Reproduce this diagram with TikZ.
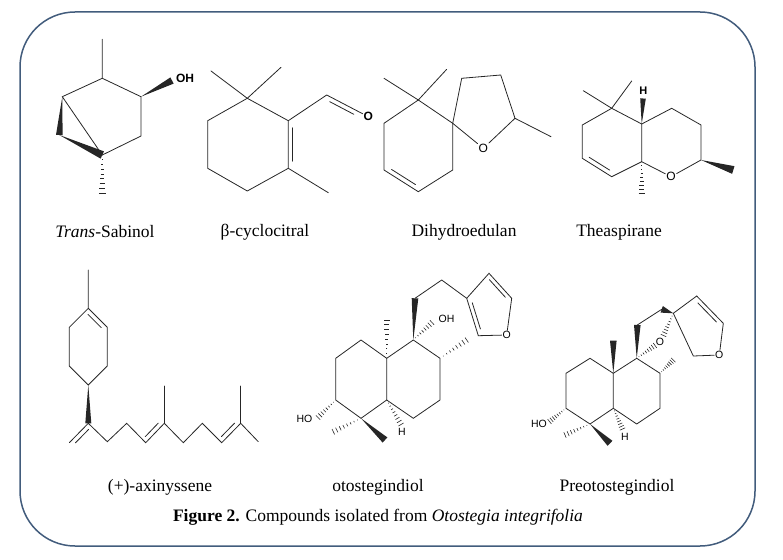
\documentclass[tikz,border=0pt]{standalone}
\usepackage{fontspec}
\setmainfont{Liberation Serif}
\setsansfont{Liberation Sans}
\usetikzlibrary{calc,positioning}
\definecolor{framecol}{RGB}{66,92,124}
\tikzset{
  bond/.style={line width=0.8pt, draw=black!85, line cap=round},
  hashline/.style={line width=0.6pt, draw=black!85},
  atom/.style={font=\sffamily\fontsize{10.5}{10.5}\selectfont, inner sep=0.8pt},
  atombf/.style={font=\sffamily\bfseries\fontsize{12}{12}\selectfont, inner sep=0.8pt},
  compname/.style={font=\fontsize{17.5}{19}\selectfont, inner sep=0pt},
  panel/.style={draw=framecol, line width=1.5pt, rounded corners=55pt}
}
% solid wedge: narrow at #2, wide at #3
\newcommand{\wdgbond}[3][3]{\fill[black!85] (#2) -- ($(#3)!#1pt!90:(#2)$) -- ($(#3)!#1pt!-90:(#2)$) -- cycle;}
% hashed wedge: narrow at #2, wide at #3
\newcommand{\hshbond}[3][3]{%
  \foreach \t in {0.125,0.25,...,1}
    \draw[hashline] ($($(#2)!\t!(#3)$)!{\t*#1pt}!90:(#2)$) -- ($($(#2)!\t!(#3)$)!{\t*#1pt}!-90:(#2)$);}
% second line of a double bond, offset #3
\newcommand{\dblbond}[3]{\draw[bond] ($($(#1)!.15!(#2)$)!#3!90:(#2)$) -- ($($(#2)!.15!(#1)$)!#3!-90:(#1)$);}

\begin{document}
\begin{tikzpicture}[x=1pt,y=-1pt]
\useasboundingbox (0,0) rectangle (783,559);
\draw[panel] (20,12) rectangle (755,546);

% Trans-Sabinol
\coordinate (s1) at (102.3,78.3);
\coordinate (sm) at (102.3,39.3);
\coordinate (s2) at (141,96.7);
\coordinate (s3) at (141,136);
\coordinate (s4) at (102.3,155);
\coordinate (s5) at (62.3,96.7);
\coordinate (s6) at (59.3,135);
\coordinate (sm2) at (102.3,193);
\coordinate (sOHe) at (172,80.5);
\node[atombf] (sOH) at (185,78.5) {OH};
\draw[bond] (sm) -- (s1) -- (s2) -- (s3) -- (s4);
\draw[bond] (s1) -- (s5) -- (s4);
\wdgbond[3.3]{s5}{s6}
\wdgbond[4]{s6}{s4}
\wdgbond[3.5]{s2}{sOHe}
\hshbond[3.5]{s4}{sm2}

% beta-cyclocitral
\coordinate (c1) at (247.3,98.3);
\coordinate (cm1) at (211,71);
\coordinate (cm2) at (281,67.3);
\coordinate (c2) at (207.7,120.7);
\coordinate (c3) at (207.7,168.3);
\coordinate (c4) at (247.3,191);
\coordinate (c5) at (288.3,168.3);
\coordinate (c6) at (288.3,120.7);
\coordinate (cm3) at (328.3,192.7);
\coordinate (c7) at (326.7,95);
\coordinate (cOe) at (361,113);
\node[atombf] (cO) at (368.3,116.7) {O};
\draw[bond] (cm1) -- (c1) -- (cm2);
\draw[bond] (c1) -- (c2) -- (c3) -- (c4) -- (c5) -- (c6) -- (c1);
\draw[bond] (c5) -- (cm3);
\draw[bond] (c6) -- (c7) -- (cO);
\dblbond{c6}{c5}{4.5pt}
\dblbond{c7}{cOe}{-4.5pt}

% Dihydroedulan
\coordinate (d1) at (418.3,100);
\coordinate (dm1) at (384,78.3);
\coordinate (dm2) at (446.7,69.3);
\coordinate (d2) at (384,123.3);
\coordinate (d3) at (384,170);
\coordinate (d4) at (418.3,191.7);
\coordinate (d5) at (452.7,170);
\coordinate (d6) at (452.7,123.3);
\coordinate (d7) at (461.7,78.3);
\coordinate (d8) at (500.7,75);
\coordinate (d9) at (515,118.3);
\coordinate (dm3) at (551,136.7);
\node[atom, font=\sffamily\fontsize{12}{12}\selectfont] (dO) at (483.3,148.3) {O};
\draw[bond] (dm1) -- (d1) -- (dm2);
\draw[bond] (d1) -- (d2) -- (d3) -- (d4) -- (d5) -- (d6) -- (d1);
\draw[bond] (d6) -- (d7) -- (d8) -- (d9) -- (dm3);
\draw[bond] (d9) -- (dO) -- (d6);
\dblbond{d3}{d4}{4.5pt}

% Theaspirane
\coordinate (t1) at (611.7,108.3);
\coordinate (tm1) at (583.3,90.7);
\coordinate (tm2) at (631.7,81);
\coordinate (t2) at (582.3,125);
\coordinate (t3) at (582.3,158.3);
\coordinate (t4) at (611.7,176.7);
\coordinate (t5) at (641.7,161.7);
\coordinate (t6) at (641.7,124);
\coordinate (t7) at (671.7,108.3);
\coordinate (t8) at (701,125);
\coordinate (t9) at (701,160);
\coordinate (tHe) at (643,98.5);
\coordinate (tm3) at (641.7,193.3);
\coordinate (tm4) at (733.3,170);
\node[atom, font=\sffamily\fontsize{12}{12}\selectfont] (tO) at (671,176.7) {O};
\node[atombf, font=\sffamily\bfseries\fontsize{11}{11}\selectfont] (tH) at (643.3,91) {H};
\draw[bond] (tm1) -- (t1) -- (tm2);
\draw[bond] (t1) -- (t2) -- (t3) -- (t4) -- (t5) -- (t6) -- (t1);
\draw[bond] (t6) -- (t7) -- (t8) -- (t9) -- (tO) -- (t5);
\dblbond{t3}{t4}{4.5pt}
\wdgbond[2.8]{t6}{tHe}
\hshbond[3]{t5}{tm3}
\wdgbond[4]{t9}{tm4}

% names, first row
\node[compname] (nsab) at (105,232) {\textit{Trans}-Sabinol};
\node[compname] (ncyc) at (265,232) {β-cyclocitral};
\node[compname] (ndih) at (464,232) {Dihydroedulan};
\node[compname] (nthe) at (619,232) {Theaspirane};

% (+)-axinyssene
\coordinate (am) at (88.3,270);
\coordinate (a1) at (88.3,308.3);
\coordinate (a2) at (107.3,327.3);
\coordinate (a3) at (107.3,366);
\coordinate (a4) at (88.3,385);
\coordinate (a5) at (69.3,366);
\coordinate (a6) at (69.3,327.3);
\coordinate (a7) at (88.3,423.3);
\coordinate (a8) at (69.3,442.7);
\coordinate (a9) at (107.3,441.7);
\coordinate (a10) at (126.7,423.3);
\coordinate (a11) at (145.7,442.7);
\coordinate (a12) at (164.3,423.3);
\coordinate (am2) at (164.3,386);
\coordinate (a13) at (183.3,442.7);
\coordinate (a14) at (202.3,423.3);
\coordinate (a15) at (221.7,442.7);
\coordinate (a16) at (240.7,423.3);
\coordinate (am3) at (240.7,386);
\coordinate (am4) at (258.3,441.7);
\draw[bond] (am) -- (a1) -- (a2) -- (a3) -- (a4) -- (a5) -- (a6) -- (a1);
\draw[bond] (a8) -- (a7) -- (a9) -- (a10) -- (a11) -- (a12) -- (a13) -- (a14) -- (a15) -- (a16) -- (am4);
\draw[bond] (a12) -- (am2);
\draw[bond] (a16) -- (am3);
\wdgbond[3]{a4}{a7}
\dblbond{a1}{a2}{-4.5pt}
\dblbond{a7}{a8}{4.5pt}
\dblbond{a11}{a12}{4.5pt}
\dblbond{a15}{a16}{4.5pt}

% otostegindiol
\coordinate (o1) at (361,340);
\coordinate (o2) at (335.7,358.3);
\coordinate (o3) at (335.7,400);
\coordinate (o4) at (361,418.3);
\coordinate (o5) at (386.7,400);
\coordinate (o6) at (386.7,358.3);
\coordinate (o7) at (413.3,340);
\coordinate (o8) at (440,358.3);
\coordinate (o9) at (440,400);
\coordinate (o10) at (413.3,418.3);
\coordinate (om1) at (386.7,320);
\coordinate (o11) at (415,298.3);
\coordinate (o12) at (441.7,280);
\coordinate (f1) at (466.7,298.3);
\coordinate (f2) at (489,273.3);
\coordinate (f3) at (511.7,298.3);
\coordinate (f4) at (478.3,335.7);
\coordinate (om2) at (466.7,340);
\coordinate (oOHe) at (432,322.5);
\coordinate (oHe) at (401,424.5);
\coordinate (oHOe) at (318,417.5);
\coordinate (om3) at (333.3,431.7);
\coordinate (om4) at (385,440);
\node[atom] (fO) at (506.7,335) {O};
\node[atom] (oOH) at (446.5,319) {OH};
\node[atom] (oH) at (402,431.5) {H};
\node[atom] (oHO) at (304.5,419) {HO};
\draw[bond] (o1) -- (o2) -- (o3) -- (o4) -- (o5) -- (o6) -- (o1);
\draw[bond] (o6) -- (o7) -- (o8) -- (o9) -- (o10) -- (o5);
\draw[bond] (o11) -- (o12) -- (f1) -- (f2) -- (f3) -- (fO) -- (f4) -- (f1);
\dblbond{f1}{f4}{4pt}
\dblbond{f2}{f3}{-4pt}
\wdgbond[3.3]{o7}{o11}
\hshbond[3]{o6}{om1}
\hshbond[3]{o7}{oOHe}
\hshbond[3]{o8}{om2}
\hshbond[3]{o5}{oHe}
\hshbond[3]{o3}{oHOe}
\hshbond[3]{o4}{om3}
\wdgbond[3.5]{o4}{om4}

% Preotostegindiol
\coordinate (p1) at (590,358.3);
\coordinate (p2) at (566,373.3);
\coordinate (p3) at (566,408.3);
\coordinate (p4) at (590,424);
\coordinate (p5) at (613.3,408.3);
\coordinate (p6) at (613.3,373.3);
\coordinate (p7) at (636.7,358.3);
\coordinate (p8) at (660,373.3);
\coordinate (p9) at (660,408.3);
\coordinate (p10) at (636.7,424);
\coordinate (pm1) at (613.3,340.7);
\coordinate (p11) at (637.3,325);
\coordinate (p12) at (661.7,309.3);
\coordinate (p13) at (673.3,313.3);
\coordinate (g1) at (696.7,296);
\coordinate (g2) at (723.3,323.3);
\coordinate (g3) at (693.3,356);
\coordinate (pm2) at (673.3,360);
\coordinate (pOe1) at (655,345.5);
\coordinate (pOe2) at (663.5,335.5);
\coordinate (pHe) at (622.5,429);
\coordinate (pHOe) at (549.5,421.5);
\coordinate (pm3) at (565,435);
\coordinate (pm4) at (610,443.3);
\node[atom] (pO) at (660,341.5) {O};
\node[atom] (gO) at (719.3,355) {O};
\node[atom] (pH) at (625,437) {H};
\node[atom] (pHO) at (539,424) {HO};
\draw[bond] (p1) -- (p2) -- (p3) -- (p4) -- (p5) -- (p6) -- (p1);
\draw[bond] (p6) -- (p7) -- (p8) -- (p9) -- (p10) -- (p5);
\draw[bond] (p11) -- (p12);
\draw[bond] (p13) -- (g1) -- (g2) -- (gO) -- (g3) -- (p13);
\dblbond{g1}{g2}{-4pt}
\wdgbond[3.3]{p6}{pm1}
\wdgbond[3.3]{p7}{p11}
\wdgbond[3.5]{p13}{p12}
\hshbond[3]{p7}{pOe1}
\hshbond[3]{p13}{pOe2}
\hshbond[3]{p8}{pm2}
\hshbond[3]{p5}{pHe}
\hshbond[3]{p3}{pHOe}
\hshbond[3]{p4}{pm3}
\wdgbond[3.5]{p4}{pm4}

% names, second row
\node[compname] (naxi) at (160,487) {(+)-axinyssene};
\node[compname] (noto) at (378,487) {otostegindiol};
\node[compname] (npre) at (617,487) {Preotostegindiol};

% caption
\node[compname] (cap) at (378,517) {\textbf{Figure 2.} Compounds isolated from \textit{Otostegia integrifolia}};
\end{tikzpicture}
\end{document}
